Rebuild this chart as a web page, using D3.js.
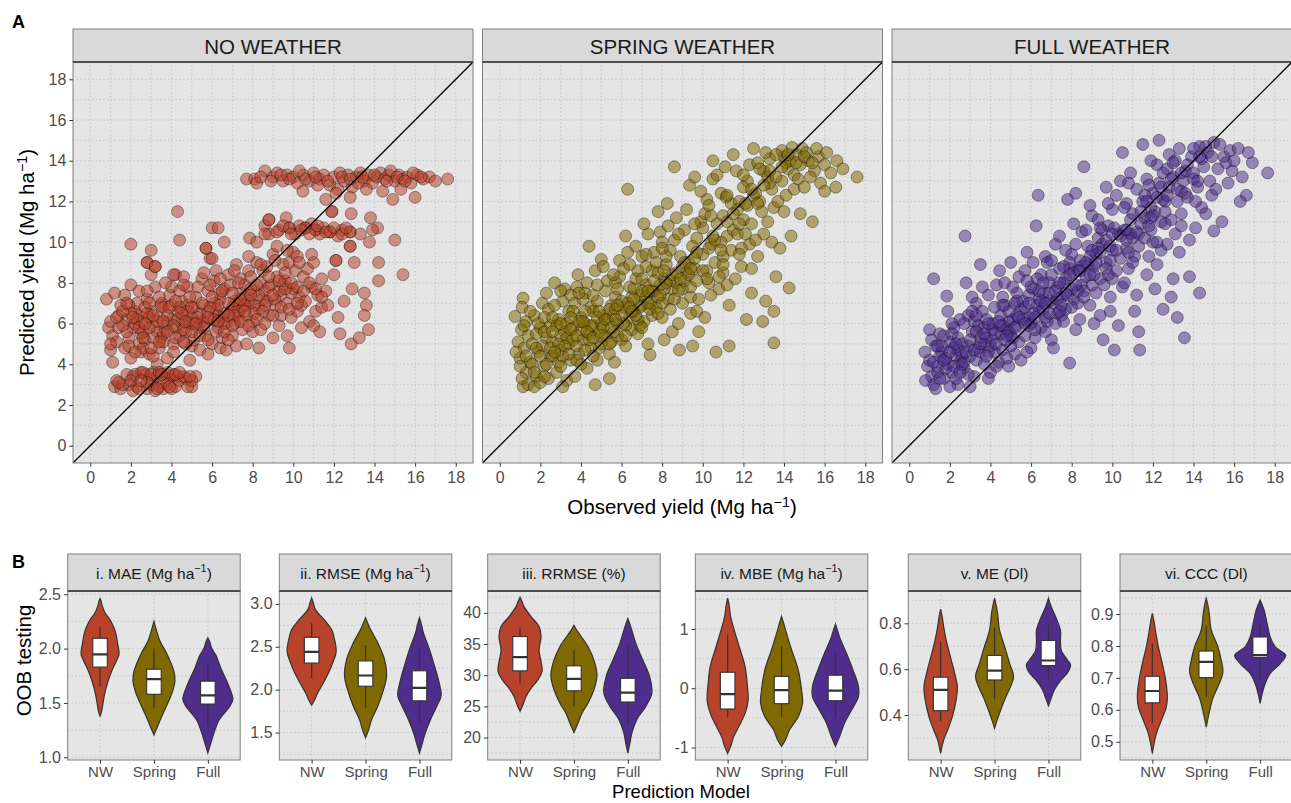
<!DOCTYPE html>
<html>
<head>
<meta charset="utf-8">
<title>Observed vs predicted yield</title>
<script src="https://cdn.jsdelivr.net/npm/d3@7"></script>
<style>
  body { margin: 0; background: #fff; }
  svg { font-family: "Liberation Sans", Arial, Helvetica, sans-serif; }
</style>
</head>
<body>
<svg id="chart" width="1291" height="803"></svg>
<script>
// ---------- data: panel A (observed, predicted) ----------
const scatterTitles = ["NO WEATHER", "SPRING WEATHER", "FULL WEATHER"];
const yieldTicks = [0, 2, 4, 6, 8, 10, 12, 14, 16, 18];
const yieldMinor = [1, 3, 5, 7, 9, 11, 13, 15, 17];
const yieldDomain = [-0.85, 18.85];

const pointsNW = [
  [0.9,5.8],[1.0,6.1],[1.1,5.4],[0.8,7.2],[1.2,7.5],[1.1,4.1],[1.0,4.7],[1.3,5.1],[1.4,6.4],[1.2,2.9],[1.3,3.2],[1.5,2.8],[1.4,5.8],[1.5,6.9],[1.0,5.0],
  [1.7,7.4],[1.8,6.2],[1.9,5.3],[1.7,4.8],[2.0,4.3],[2.1,5.8],[2.2,6.6],[2.0,7.9],[2.3,7.0],[2.4,5.0],[2.1,3.4],[1.9,3.0],[2.3,2.9],[2.5,3.6],[2.2,6.0],[2.4,6.4],[1.8,5.6],[2.5,5.5],[2.0,9.9],[2.4,7.6],[2.1,2.7],[2.5,4.6],[1.9,6.9],
  [2.6,6.1],[2.7,5.2],[2.8,7.2],[2.9,4.5],[3.0,6.6],[3.1,5.9],[3.2,7.8],[3.3,4.0],[3.4,6.3],[3.5,5.3],[2.7,3.5],[2.9,3.3],[3.1,3.6],[3.3,3.4],[2.8,2.8],[3.0,3.0],[3.2,2.7],[3.4,2.9],[2.6,4.8],[3.0,8.4],[2.8,9.0],[3.2,8.8],[3.0,9.6],[3.5,7.0],[2.7,6.8],[3.3,5.6],[3.1,4.4],[2.9,6.3],[3.4,4.8],
  [3.6,6.8],[3.7,5.7],[3.8,4.3],[3.9,7.4],[4.0,6.2],[4.1,5.0],[4.2,8.4],[4.3,6.6],[4.4,5.4],[4.5,7.1],[3.7,3.5],[3.9,3.3],[4.1,3.5],[4.3,3.4],[3.6,2.8],[3.8,3.0],[4.2,2.9],[4.4,3.2],[4.3,11.5],[4.4,10.1],[4.0,7.8],[3.8,6.0],[4.2,5.8],[4.5,6.0],[4.1,4.6],[3.6,5.1],[4.4,7.6],[4.0,6.9],
  [4.6,6.4],[4.7,5.6],[4.8,7.8],[4.9,6.0],[5.0,4.9],[5.1,6.8],[5.2,7.3],[5.3,5.8],[5.4,6.5],[5.5,8.2],[4.7,3.3],[5.0,2.9],[5.2,3.4],[4.9,4.2],[5.1,5.2],[4.6,8.3],[5.4,4.7],[5.5,6.1],[4.8,6.9],[5.3,7.8],[5.0,6.3],[4.7,5.0],
  [5.6,6.9],[5.7,5.4],[5.8,7.6],[5.9,6.2],[6.0,5.0],[6.1,8.1],[6.2,6.7],[6.3,5.8],[6.4,7.2],[6.5,6.3],[5.7,9.7],[5.9,9.2],[6.0,9.2],[6.0,10.7],[6.3,10.7],[6.6,10.0],[5.8,4.5],[6.4,4.8],[6.2,8.6],[5.6,6.0],[6.1,7.0],[6.5,5.3],[5.9,7.9],[6.3,6.4],
  [6.6,7.7],[6.7,6.0],[6.8,8.4],[6.9,6.6],[7.0,5.4],[7.1,7.1],[7.2,8.9],[7.3,6.3],[7.4,7.5],[7.5,5.7],[6.7,4.7],[7.2,4.9],[6.9,7.9],[7.0,6.8],[7.4,8.2],[6.8,5.2],[7.3,7.0],[7.1,6.0],[6.6,6.5],[7.5,6.8],
  [7.6,7.9],[7.7,6.4],[7.8,8.6],[7.9,7.0],[8.0,5.6],[8.1,7.6],[8.2,9.0],[8.3,6.7],[8.4,8.0],[8.5,7.2],[7.85,10.2],[8.2,10.0],[7.7,5.0],[8.3,4.8],[8.0,6.1],[8.4,5.7],[7.9,8.3],[8.1,6.9],[8.5,8.6],[7.6,7.3],
  [8.6,7.6],[8.7,8.8],[8.8,6.4],[8.9,7.9],[9.0,9.4],[9.1,6.9],[9.2,8.3],[9.3,5.9],[9.4,7.4],[9.5,8.9],[8.6,10.8],[8.8,11.1],[8.8,10.4],[9.3,10.6],[9.65,11.2],[9.0,5.3],[9.4,6.4],[8.7,7.1],[9.2,9.8],[9.5,7.9],
  [9.6,8.1],[9.7,7.0],[9.8,9.0],[9.9,6.3],[10.0,7.7],[10.1,8.6],[10.2,6.6],[10.3,7.3],[10.4,5.8],[10.5,8.3],[9.8,4.8],[9.8,10.7],[10.1,10.4],[10.3,10.8],[10.6,10.7],[10.0,9.5],[9.7,5.4],[10.2,9.3],[10.4,6.9],[9.9,7.5],
  [10.6,7.1],[10.7,8.7],[10.8,6.1],[10.9,7.8],[11.0,9.0],[11.1,6.6],[11.2,7.4],[11.3,5.6],[11.4,8.2],[11.1,10.6],[11.3,10.4],[10.9,10.9],[11.5,10.7],[11.0,5.9],[11.4,6.8],
  [11.6,7.6],[11.8,10.5],[11.9,11.5],[12.1,9.1],[12.2,6.3],[12.3,5.5],[12.5,7.1],[12.0,8.4],[12.4,10.6],[11.7,6.9],[12.2,10.3],
  [12.8,9.8],[12.9,7.7],[12.85,5.0],[12.8,10.5],[12.85,11.4],[13.0,9.0],[13.25,5.3],[13.5,7.5],[13.6,6.9],[13.5,6.4],[13.7,5.7],[13.75,10.0],[13.8,11.2],[14.15,10.7],[14.2,9.0],[14.2,8.1],[15.0,10.1],[15.4,8.4],[13.3,10.4],[13.9,10.6],
  [2.3,6.2],[2.8,6.5],[3.3,6.1],[3.8,6.4],[4.3,6.2],[4.8,6.6],[5.3,6.3],[5.8,6.6],[6.3,6.9],[6.8,7.0],[7.3,6.6],[7.8,7.1],[8.3,7.4],[8.8,7.8],[9.3,7.6],[2.6,5.6],[3.1,5.3],[3.6,5.5],[4.1,5.9],[4.6,5.7],[5.1,6.0],[5.6,5.8],[6.1,6.2],[6.6,6.0],[7.1,6.4],[7.6,6.9],[8.1,6.5],[8.6,6.9],[9.1,7.2],[9.6,7.7],[2.0,6.5],[3.5,6.9],[4.9,7.3],[6.4,7.5],[7.9,7.7],[1.6,5.9],[2.9,5.8],[4.4,6.8],[5.9,6.8],[7.4,7.2],
  [7.7,13.1],[8.1,13.1],[8.2,12.9],[8.6,13.5],[9.0,13.2],[9.2,13.4],[9.5,13.0],[9.7,13.3],[10.0,13.2],[10.2,12.9],[10.47,12.5],[10.5,13.3],[10.8,13.0],[11.0,13.4],[11.3,13.1],[11.6,12.1],[11.5,13.3],[11.8,12.8],[12.0,13.2],[12.2,12.6],[12.3,13.4],[12.5,13.0],[12.7,13.3],[12.9,12.7],[13.1,13.2],[13.3,13.4],[13.5,13.0],[13.7,13.3],[13.9,12.9],[14.1,13.2],[14.3,13.4],[14.5,13.1],[14.7,13.3],[14.9,12.1],[15.0,13.0],[15.2,13.3],[15.4,13.1],[15.6,13.2],[15.8,12.9],[16.0,12.2],[16.1,13.3],[16.4,13.1],[16.7,13.2],[17.0,13.0],[17.6,13.1],[12.1,12.4],[13.6,12.6],[14.4,12.5],[15.3,12.6],[11.2,12.8],[9.8,13.1],[10.3,13.5],[14.8,13.5],[12.8,12.2],[13.2,12.9],
  [2.2,3.5],[2.6,3.6],[3.0,3.5],[3.4,3.6],[3.8,3.6],[4.2,3.5],[4.6,3.4],[1.6,3.0],[2.4,2.8],[3.6,3.1],[4.0,2.8],[4.8,2.9],[1.8,3.5],[5.0,3.2],[3.3,2.8],
  [2.8,9.0],[3.2,8.8],[4.1,8.4],[5.7,9.7],[8.8,11.1],[8.6,10.4],[9.8,10.7],[10.6,10.7],[11.1,10.6],[11.8,10.5],[12.8,10.5],[11.9,11.5],[12.1,9.1],[12.8,9.8],
  [1.3,6.3],[1.6,6.6],[1.8,7.0],[2.1,6.3],[2.4,5.8],[2.7,6.0],[2.9,7.0],[3.1,6.4],[3.4,7.3],[3.6,6.1],[3.9,6.8],[4.2,7.1],[4.5,6.5],[4.7,6.1],[5.0,6.8],[5.2,6.0],[5.5,7.0],[5.8,6.3],[6.0,7.3],[6.3,6.1],[6.5,7.6],[6.8,6.4],[7.0,7.5],[7.3,8.0],[7.6,6.6],[7.9,7.4],[8.2,7.9],[8.5,6.6],[8.8,8.3],[9.0,7.4],[9.3,8.1],[9.6,8.5],[9.9,8.0],[10.2,7.8],[10.5,7.6],[10.8,8.0],[11.1,7.7],[11.4,7.3],
  [1.9,4.9],[2.2,4.6],[2.6,5.3],[3.0,4.8],[3.4,5.1],[3.8,5.6],[4.2,5.3],[4.6,5.1],[5.0,5.6],[5.4,5.4],[5.8,5.2],[6.2,5.6],[6.6,5.6],[7.0,5.9],[7.4,6.1],[7.8,5.9],[8.2,6.2],[8.6,6.0],[9.0,6.4],[9.4,6.8],[9.8,6.7],[10.2,7.0],
  [2.8,7.6],[3.7,8.0],[4.6,7.9],[5.6,8.5],[6.4,8.2],[7.1,8.6],[7.8,9.3],[8.4,8.9],[9.1,9.1],[9.7,9.6],[10.3,9.0],[10.9,9.4],
  [9.2,10.5],[9.5,10.8],[9.9,10.4],[10.4,10.6],[10.8,10.4],[11.2,10.8],[11.6,10.5],[12.0,10.7],[12.4,10.4],[12.6,10.7],
  [8.4,13.2],[8.9,13.0],[9.4,13.3],[10.6,13.1],[11.1,13.2],[11.7,13.0],[12.4,13.2],[12.8,13.1],[13.4,13.2],[14.0,13.3],[14.6,13.0],[15.1,13.2],[15.5,13.0],[15.9,13.4],[16.3,13.2],
  [1.4,3.1],[2.0,3.2],[2.8,3.1],[3.5,3.5],[4.4,3.6],[4.9,3.4],[2.5,3.2],[3.9,2.9]
];

const pointsSpring = [
  [0.75,6.35],[1.07,5.7],[1.0,4.3],[1.15,2.9],[1.15,7.25],[0.9,5.1],[1.2,4.8],[1.3,3.6],[1.4,5.4],[1.1,3.3],[1.3,6.1],[0.8,4.6],[1.5,4.1],[1.4,3.0],[1.2,5.9],
  [1.6,5.0],[1.7,6.4],[1.8,3.4],[1.9,4.6],[2.0,5.8],[2.1,7.0],[2.2,3.9],[2.3,5.3],[2.4,6.7],[2.5,4.4],[1.7,2.9],[2.0,3.1],[2.3,7.5],[1.9,6.0],[2.4,3.3],[2.1,4.9],[2.5,5.9],[1.8,5.5],[2.2,6.3],
  [2.6,5.1],[2.7,8.0],[2.8,3.6],[2.9,6.2],[3.0,4.7],[3.1,7.1],[3.2,5.6],[3.3,3.2],[3.4,6.6],[3.5,4.2],[2.7,6.9],[3.0,5.4],[3.2,7.7],[2.9,4.1],[3.4,5.0],[3.1,2.9],[3.5,7.4],[2.8,5.9],[3.3,6.0],[2.6,4.4],
  [3.6,5.8],[3.7,7.0],[3.85,8.4],[3.9,4.5],[4.0,6.3],[4.1,5.2],[4.2,7.5],[4.3,3.8],[4.4,9.8],[4.5,6.8],[3.7,3.4],[4.0,4.0],[4.2,6.0],[4.4,5.5],[3.8,7.8],[4.1,7.2],[4.5,4.8],[3.6,6.6],[4.3,8.0],[4.0,5.7],
  [4.6,5.9],[4.7,3.0],[4.8,7.1],[4.9,4.8],[5.0,9.15],[5.1,6.4],[5.2,5.4],[5.3,8.1],[5.4,3.3],[5.5,6.9],[4.7,8.6],[5.0,6.0],[5.2,7.6],[4.9,5.6],[5.4,4.5],[5.1,8.8],[4.6,6.6],[5.5,5.1],[5.3,6.2],[4.8,4.2],
  [5.65,4.1],[5.7,7.3],[5.8,6.0],[5.9,8.3],[6.0,5.2],[6.1,6.8],[6.2,10.3],[6.3,12.6],[6.4,7.8],[6.5,5.7],[5.6,6.4],[5.9,9.1],[6.0,7.1],[6.2,4.9],[6.4,6.3],[5.8,5.4],[6.1,8.7],[6.5,7.3],[6.3,9.5],[5.7,8.0],
  [6.6,6.6],[6.7,8.2],[6.8,5.5],[6.9,7.4],[7.0,9.3],[7.1,6.1],[7.2,7.9],[7.3,5.0],[7.4,4.46],[7.5,8.6],[6.7,9.8],[7.0,6.9],[7.3,10.4],[6.9,5.9],[7.4,7.0],[6.6,7.7],[7.2,8.8],[7.5,6.4],[7.1,10.9],[6.8,8.6],
  [7.6,7.6],[7.7,9.0],[7.8,11.5],[7.9,10.5],[8.0,6.3],[8.1,8.2],[8.25,11.9],[8.3,7.2],[8.4,9.6],[8.5,5.6],[7.7,6.8],[8.0,10.0],[8.2,8.9],[7.9,7.9],[8.4,6.7],[7.6,9.5],[8.3,10.8],[8.5,7.7],[8.1,5.2],[7.8,8.5],
  [8.6,13.7],[8.7,8.0],[8.85,4.7],[8.9,9.3],[9.0,7.0],[9.1,10.6],[9.2,8.5],[9.35,12.8],[9.4,6.5],[9.5,9.8],[8.7,11.2],[9.0,7.7],[9.2,11.6],[9.6,13.2],[8.8,6.0],[9.3,9.0],[9.5,4.9],[8.6,10.1],[9.1,8.1],[9.4,7.3],
  [9.6,8.7],[9.7,10.2],[9.8,7.2],[9.9,11.0],[10.0,9.4],[10.1,6.3],[10.2,12.1],[10.3,8.0],[10.5,13.1],[10.5,14.0],[9.7,6.6],[10.0,10.7],[10.2,8.6],[9.9,12.5],[10.4,9.9],[9.8,5.6],[10.1,11.4],[10.4,7.4],[10.65,4.6],[10.3,11.8],
  [10.6,9.0],[10.7,10.9],[10.8,7.7],[10.9,12.4],[11.0,8.5],[11.15,12.2],[11.2,10.3],[11.3,4.9],[11.5,14.3],[11.4,9.6],[10.7,13.3],[11.0,11.3],[11.3,6.9],[10.9,10.0],[11.4,11.9],[10.8,8.3],[11.1,13.7],[11.5,10.6],[11.2,7.9],[11.0,9.3],
  [11.65,13.5],[11.7,10.4],[11.8,12.0],[11.9,8.8],[12.0,11.1],[12.15,6.2],[12.2,13.0],[12.4,7.5],[12.5,14.6],[12.3,9.9],[11.7,11.6],[12.0,12.7],[12.4,10.9],[11.9,9.7],[12.2,11.8],[12.5,12.3],[11.6,8.2],[12.3,13.8],[12.1,10.4],[12.4,8.7],
  [12.7,9.3],[12.8,12.0],[12.95,6.1],[13.0,13.5],[13.1,7.1],[13.2,11.0],[13.3,14.1],[13.5,6.6],[13.5,5.05],[13.4,12.6],[12.7,13.9],[13.0,10.4],[13.3,12.9],[13.6,8.3],[12.9,11.5],[13.2,13.2],[13.4,10.0],[12.6,12.4],[13.1,14.4],[13.5,11.7],
  [13.8,9.7],[13.9,13.0],[14.0,14.2],[14.1,12.3],[14.25,7.75],[14.35,10.3],[14.4,14.65],[14.2,13.6],[13.7,12.0],[14.5,13.3],[14.0,11.5],[14.3,14.0],[13.9,14.5],[14.5,12.6],[14.1,13.9],
  [14.6,14.3],[14.7,13.1],[14.8,11.4],[14.9,14.6],[15.0,12.7],[15.2,14.0],[15.4,11.0],[15.5,13.5],[15.7,14.2],[15.8,12.9],[16.0,12.5],[16.0,13.8],[14.8,13.8],[15.3,13.2],[15.6,14.6],[15.1,14.4],
  [16.1,14.4],[16.3,13.4],[16.55,12.7],[16.6,14.0],[16.9,13.6],[17.6,13.2],
  [2.2,5.6],[2.6,6.3],[3.0,6.0],[3.3,5.3],[3.6,5.2],[3.9,6.1],[4.2,6.6],[4.5,5.9],[4.8,6.3],[5.1,5.8],[5.4,6.7],[5.7,6.7],[6.0,6.4],[6.3,7.0],[6.6,7.2],[6.9,6.8],[7.2,7.3],[7.5,7.6],[7.8,7.3],[8.1,7.7],[8.4,8.1],[8.7,8.5],[9.0,8.8],[9.3,8.4],[9.6,9.2],[2.5,4.8],[3.1,4.4],[3.8,4.9],[4.4,5.2],[5.0,5.0],[5.6,5.6],[6.2,5.9],[6.8,6.2],[7.4,6.7],[8.0,7.0],[3.5,6.3],[4.6,7.4],[5.8,7.7],[7.0,8.2],[8.2,9.3],
  [1.3,4.4],[1.6,4.0],[1.8,4.8],[2.0,4.4],[2.3,4.0],[2.6,5.6],[2.9,5.0],[3.2,4.9],[3.5,5.7],[3.8,5.4],[4.1,6.1],[4.3,5.6],[4.6,5.3],[4.9,6.6],[5.2,6.2],[5.5,5.8],[5.8,6.9],[6.1,6.0],[6.4,6.8],[6.7,6.4],[7.0,7.6],[7.3,7.0],[7.6,8.1],[7.9,7.4],[8.2,8.0],[8.5,8.4],[8.8,7.6],[9.1,9.0],[9.4,8.7],[9.7,9.5],[10.0,8.6],[10.3,9.7],[10.6,10.1],[10.9,9.6],[11.2,11.0],[11.5,11.4],[11.8,10.9],[12.1,11.9],[12.4,12.6],[12.7,11.9],[13.0,12.8],[13.3,13.5],[13.6,13.2],[13.9,13.7],[14.2,14.3],[14.6,13.9],[15.0,14.2],[15.4,13.9],
  [3.0,7.6],[3.9,7.5],[4.8,7.9],[5.6,8.4],[6.4,8.9],[7.2,9.4],[8.0,9.7],[8.8,10.4],[9.6,10.9],[10.4,11.3],[11.2,12.3],[12.0,13.3],[12.8,13.6],[13.6,14.3],
  [2.2,3.4],[3.0,3.9],[3.8,4.2],[4.6,4.4],[5.4,5.0],[6.2,5.4],[7.0,5.8],[7.8,6.5],[8.6,7.2],[9.4,7.8],[10.2,8.2],[11.0,8.9],[11.8,9.4],[12.6,10.1],
  [1.0,3.9],[1.7,3.6],[1.1,6.8],[1.5,6.6],[2.7,4.6],[3.4,4.5],[4.2,4.7],[5.0,5.4],[5.7,6.2],[6.5,6.6],[7.3,7.6],[8.1,8.6],[8.9,8.2],[9.7,8.1],[10.5,10.3]
];

const pointsFull = [
  [0.77,4.6],[1.0,5.7],[1.1,3.4],[1.2,8.2],[0.9,3.9],[1.0,4.2],[1.2,3.0],[1.3,4.9],[1.4,3.6],[1.1,5.2],[1.5,4.4],[0.8,3.2],[1.3,2.8],[1.5,5.5],[1.4,3.9],
  [1.6,4.6],[1.7,3.3],[1.85,7.35],[1.9,6.6],[1.9,4.0],[2.0,5.1],[2.1,3.6],[2.2,5.8],[2.3,4.4],[2.4,3.0],[2.5,6.2],[1.7,5.4],[2.0,2.9],[2.2,4.8],[2.4,5.3],[1.8,3.8],[2.1,6.0],[2.5,4.1],[2.3,3.3],[1.6,4.9],
  [2.6,5.0],[2.7,3.8],[2.75,10.3],[2.8,8.0],[2.9,6.4],[3.0,4.4],[3.1,5.6],[3.2,3.4],[3.3,7.0],[3.4,4.8],[3.5,8.9],[2.7,6.0],[3.0,2.9],[3.2,6.1],[2.9,3.5],[3.4,5.9],[2.6,4.4],[3.3,4.2],[3.1,7.3],[3.5,5.3],
  [3.6,6.6],[3.7,4.0],[3.8,5.3],[3.9,7.4],[4.0,3.6],[4.1,6.0],[4.2,4.6],[4.3,7.9],[4.45,8.6],[4.5,5.5],[3.7,5.8],[4.0,4.9],[4.2,6.8],[3.9,3.3],[4.4,4.1],[3.6,7.8],[4.1,5.2],[4.5,6.4],[3.8,6.2],[4.3,3.9],
  [4.6,4.7],[4.7,6.9],[4.8,5.7],[4.9,3.9],[5.0,9.0],[5.1,6.2],[5.2,4.5],[5.3,7.5],[5.4,5.1],[5.5,6.7],[4.7,8.0],[5.0,5.4],[5.2,7.0],[4.9,6.1],[5.4,8.3],[4.8,4.3],[5.3,5.9],[5.5,4.2],[5.1,7.8],[4.6,5.9],
  [5.6,7.1],[5.7,5.4],[5.8,9.5],[5.9,6.3],[6.0,4.8],[6.1,7.7],[6.25,10.8],[6.35,12.3],[6.4,6.6],[6.5,8.4],[5.7,8.6],[6.0,6.0],[6.2,5.3],[5.9,7.4],[6.4,7.2],[5.6,6.2],[6.1,9.0],[6.5,5.8],[6.3,6.9],[5.8,4.6],
  [6.6,7.5],[6.7,9.3],[6.8,6.1],[6.9,8.0],[7.0,5.2],[7.1,7.0],[7.2,9.9],[7.3,6.5],[7.4,8.7],[7.5,7.3],[6.7,5.6],[7.0,8.4],[7.2,6.0],[6.9,7.1],[7.4,10.3],[6.6,6.7],[7.1,4.8],[7.5,6.4],[7.3,7.8],[6.8,9.0],
  [7.6,8.0],[7.7,6.7],[7.8,12.1],[7.9,4.06],[8.0,9.4],[8.1,7.2],[8.2,12.4],[8.3,8.6],[8.4,6.2],[8.5,10.5],[7.7,9.6],[8.0,7.7],[8.2,5.7],[7.9,8.7],[8.4,9.1],[7.6,6.1],[8.1,10.9],[8.5,7.9],[8.3,7.0],[7.8,7.4],
  [8.6,13.7],[8.7,8.3],[8.8,9.8],[8.9,6.9],[9.0,11.3],[9.1,8.8],[9.2,7.5],[9.3,10.2],[9.4,6.4],[9.55,5.2],[8.7,10.6],[9.0,7.9],[9.2,9.4],[8.9,11.8],[9.4,8.2],[8.6,7.6],[9.1,6.0],[9.5,9.9],[9.3,11.1],[8.8,8.9],
  [9.7,12.7],[9.7,9.0],[9.8,10.8],[9.9,7.3],[10.0,11.6],[10.1,4.7],[10.2,8.6],[10.3,10.4],[10.4,13.0],[10.5,14.4],[9.6,7.9],[10.0,9.6],[10.2,12.3],[9.9,6.6],[10.4,9.2],[9.8,11.9],[10.1,10.7],[10.5,7.8],[10.3,5.9],[10.0,8.2],
  [10.6,10.6],[10.7,11.9],[10.8,8.7],[10.9,13.4],[11.0,10.2],[11.1,9.3],[11.2,12.6],[11.35,4.7],[11.3,5.6],[11.5,14.8],[10.7,9.7],[11.0,11.4],[11.2,7.4],[10.9,10.4],[11.4,10.9],[10.8,12.9],[11.1,6.6],[11.5,12.0],[11.3,9.8],[10.6,8.0],
  [11.6,11.2],[11.7,13.1],[11.8,9.3],[11.9,10.6],[12.0,12.4],[12.1,7.7],[12.2,13.8],[12.3,15.0],[12.5,6.7],[12.4,11.0],[11.7,8.4],[12.0,10.0],[12.3,12.9],[11.9,14.0],[12.4,9.6],[11.6,12.3],[12.1,11.5],[12.5,13.4],[12.2,8.9],[11.8,10.8],
  [12.6,12.0],[12.7,9.9],[12.8,14.3],[12.9,11.1],[13.0,13.2],[13.2,6.3],[13.1,10.4],[13.3,14.6],[13.55,5.3],[13.4,12.5],[12.7,13.6],[13.0,8.2],[13.2,12.0],[12.9,7.3],[13.4,11.4],[12.6,10.9],[13.1,14.0],[13.5,13.0],[13.3,9.5],[12.8,12.7],
  [13.8,8.3],[13.7,12.2],[13.9,14.2],[14.0,13.1],[14.1,10.7],[14.3,7.5],[14.3,14.7],[14.2,12.7],[14.5,13.7],[14.4,11.7],[13.6,13.5],[14.0,14.6],[13.8,10.1],[14.4,14.1],[14.1,12.0],
  [14.6,11.4],[14.7,14.4],[14.8,13.0],[15.0,14.9],[15.0,10.55],[15.2,13.6],[15.4,11.0],[15.5,14.2],[15.7,12.9],[15.9,13.5],[14.9,12.3],[15.3,14.8],[15.6,13.9],[16.0,14.0],[15.1,12.6],[15.8,14.5],
  [16.2,14.6],[16.4,13.2],[16.6,12.3],[16.9,13.9],[16.7,14.4],[17.65,13.4],[16.3,12.0],
  [1.8,4.3],[2.4,4.7],[2.9,4.9],[3.3,5.6],[3.7,5.0],[4.1,5.7],[4.5,5.9],[4.9,5.6],[5.3,6.4],[5.7,6.8],[6.1,6.5],[6.5,7.1],[6.9,7.5],[7.3,7.2],[7.7,8.2],[8.1,8.5],[8.5,8.8],[8.9,9.3],[9.3,9.7],[9.7,10.1],[2.7,4.1],[3.5,4.6],[4.3,5.0],[5.1,5.3],[5.9,5.9],[6.7,6.3],[7.5,6.9],[8.3,7.6],[9.1,8.4],[9.9,9.1],[10.7,10.1],[11.3,10.4],[11.9,11.7],[12.5,12.1],[3.1,6.6],[4.6,7.3],[6.3,8.2],[7.9,9.0],[9.5,10.6],[2.2,3.9],
  [1.2,4.1],[1.5,3.3],[1.7,4.2],[2.0,4.6],[2.3,5.0],[2.5,3.6],[2.8,4.6],[3.0,5.2],[3.2,4.7],[3.5,5.0],[3.7,5.5],[3.9,4.6],[4.2,5.5],[4.4,6.1],[4.7,5.2],[4.9,6.6],[5.2,5.8],[5.4,6.3],[5.7,6.0],[5.9,7.0],[6.2,6.3],[6.4,7.6],[6.7,7.0],[6.9,6.5],[7.2,7.6],[7.4,8.0],[7.7,7.5],[7.9,8.4],[8.2,7.9],[8.4,8.6],[8.7,9.0],[8.9,8.4],[9.2,9.0],[9.4,9.5],[9.7,8.7],[9.9,9.8],[10.2,9.6],[10.4,10.3],[10.7,10.6],[10.9,11.1],[11.2,10.5],[11.4,11.5],[11.7,12.0],[11.9,11.2],[12.2,12.2],[12.4,12.7],[12.7,12.3],[12.9,13.1],[13.2,12.6],[13.4,13.4],[13.7,13.8],[14.0,13.4],[14.3,14.2],[14.6,14.7],[14.9,14.2],
  [2.1,5.5],[3.3,6.4],[4.6,6.9],[5.8,8.1],[7.0,9.1],[8.2,9.9],[9.4,10.7],[10.6,11.7],[11.8,12.8],[13.0,13.9],
  [1.4,4.9],[2.6,4.0],[3.8,4.4],[5.0,4.9],[6.2,5.7],[7.4,6.6],[8.6,7.3],[9.8,8.4],[11.0,9.0],[12.2,10.0],[13.4,10.8],
  [6.0,7.8],[6.6,8.0],[7.6,8.8],[8.0,6.8],[9.0,9.6],[10.0,10.4],[10.8,9.5],[11.6,10.2],[12.0,11.3],[12.6,11.5],[13.6,12.4],[14.2,13.0],[3.9,6.0],[4.8,5.4],[5.3,7.1]
];

// ---------- data: panel B (OOB testing metrics) ----------
const models = ["NW", "Spring", "Full"];
const modelColors = ["#B8432B", "#806900", "#4E2D8C"];

const metricTitles = [
  ["i. MAE (Mg ha", "\u22121", ")"],
  ["ii. RMSE (Mg ha", "\u22121", ")"],
  ["iii. RRMSE (%)"],
  ["iv. MBE (Mg ha", "\u22121", ")"],
  ["v. ME (Dl)"],
  ["vi. CCC (Dl)"]
];
const metricDomains = [[0.975, 2.53], [1.18, 3.15], [16.4, 43.5], [-1.21, 1.64], [0.204, 0.941], [0.443, 0.972]];
const metricTicks = [[1.0, 1.5, 2.0, 2.5], [1.5, 2.0, 2.5, 3.0], [20, 25, 30, 35, 40], [-1, 0, 1], [0.4, 0.6, 0.8], [0.5, 0.6, 0.7, 0.8, 0.9]];
const metricTickLabels = [["1.0","1.5","2.0","2.5"], ["1.5","2.0","2.5","3.0"], ["20","25","30","35","40"], ["-1","0","1"], ["0.4","0.6","0.8"], ["0.5","0.6","0.7","0.8","0.9"]];

// violin outlines: [value, relative width] read from top to bottom
const violinMAE = [
  [[2.46,0],[2.44,1],[2.40,2],[2.33,5],[2.25,11],[2.15,15.5],[2.05,17.5],[1.95,19],[1.88,16],[1.80,12],[1.70,8],[1.60,5],[1.50,3],[1.42,1.5],[1.38,0]],
  [[2.25,0],[2.20,1.5],[2.07,6],[1.95,13],[1.79,20],[1.70,21],[1.59,18],[1.48,13],[1.36,7],[1.27,3],[1.205,0]],
  [[2.10,0],[2.06,2],[2.0,4],[1.94,8],[1.82,13],[1.70,19],[1.58,24],[1.53,25],[1.47,22],[1.34,11],[1.22,6],[1.13,3],[1.04,0]]
];
const violinRMSE = [
  [[3.07,0],[3.02,1.5],[2.93,4],[2.81,13],[2.70,20],[2.58,23],[2.44,24.5],[2.31,21],[2.19,16.7],[2.08,11.7],[1.96,6],[1.87,2.5],[1.82,0]],
  [[2.84,0],[2.78,2],[2.70,5],[2.54,12.5],[2.35,19],[2.15,21],[2.0,18],[1.80,12],[1.65,6],[1.53,3],[1.44,0]],
  [[2.84,0],[2.76,2],[2.66,4],[2.47,10],[2.28,15],[2.08,19.7],[1.93,21.7],[1.81,17.5],[1.65,11],[1.50,6],[1.38,3],[1.26,0]]
];
const violinRRMSE = [
  [[42.5,0],[41.8,2],[41.0,4],[39.4,11],[37.8,19],[36.2,21],[34.0,19],[32.2,21],[30.6,22],[29.2,17.5],[27.9,11],[26.6,6],[25.3,3],[24.2,0]],
  [[38.0,0],[37.4,2],[36.7,5],[34.6,14],[31.9,21],[29.8,23],[27.7,20],[25.5,14],[23.9,8],[22.3,4],[20.8,0]],
  [[39.1,0],[38.2,2],[37.2,4],[35.1,8],[32.4,15],[29.8,21.7],[27.1,24],[25.0,18],[22.9,9],[20.7,4],[19.0,2],[17.5,0]]
];
const violinMBE = [
  [[1.52,0],[1.40,1.5],[1.21,3],[0.93,7.5],[0.65,12.5],[0.36,17.5],[0.08,19.5],[-0.2,20.5],[-0.42,17.5],[-0.65,11],[-0.82,6],[-0.98,3],[-1.1,0]],
  [[1.21,0],[1.10,2],[0.98,4],[0.65,10],[0.31,16.7],[-0.03,20],[-0.25,21],[-0.48,16.7],[-0.70,8],[-0.87,4],[-0.98,0]],
  [[1.08,0],[0.98,2],[0.87,4],[0.59,11],[0.31,17.5],[0.03,23],[-0.14,23],[-0.37,16],[-0.59,9],[-0.82,4],[-0.98,0]]
];
const violinME = [
  [[0.862,0],[0.83,1.5],[0.786,3],[0.728,5.5],[0.655,9.7],[0.583,14],[0.524,16.7],[0.466,15.5],[0.393,11.7],[0.335,7],[0.291,3],[0.233,0]],
  [[0.91,0],[0.88,1.5],[0.845,3],[0.77,5],[0.70,10],[0.626,15],[0.568,19],[0.524,16],[0.466,10],[0.408,5],[0.37,2],[0.342,0]],
  [[0.91,0],[0.87,3],[0.82,8],[0.77,12],[0.72,12],[0.68,13],[0.64,19],[0.62,22],[0.59,20],[0.55,12],[0.51,6],[0.47,2.5],[0.44,0]]
];
const violinCCC = [
  [[0.902,0],[0.88,1.5],[0.85,3],[0.797,6],[0.745,10],[0.693,13.3],[0.640,15],[0.609,14],[0.567,9],[0.526,4],[0.49,1.5],[0.463,0]],
  [[0.949,0],[0.93,1.5],[0.902,3],[0.85,5],[0.797,11.7],[0.755,15],[0.719,16.7],[0.682,13],[0.640,7],[0.599,3.5],[0.546,0]],
  [[0.944,0],[0.912,4],[0.87,7],[0.828,10],[0.797,15],[0.771,25.5],[0.745,20],[0.714,10],[0.682,5],[0.65,2],[0.62,0]]
];
// box stats: [lower whisker, q1, median, q3, upper whisker]
const boxMAE = [[1.65,1.83,1.947,2.095,2.196], [1.45,1.58,1.72,1.81,2.0], [1.28,1.49,1.57,1.70,1.86]];
const boxRMSE = [[2.13,2.31,2.44,2.61,2.775], [1.785,2.04,2.165,2.335,2.52], [1.63,1.87,2.02,2.22,2.48]];
const boxRRMSE = [[28.7,30.7,32.9,36.2,37.7], [25.0,27.5,29.4,31.5,34.0], [21.8,25.7,27.2,29.5,34.7]];
const boxMBE = [[-0.48,-0.35,-0.10,0.27,0.91], [-0.48,-0.26,-0.03,0.20,0.71], [-0.51,-0.21,-0.04,0.22,0.62]];
const boxME = [[0.374,0.419,0.51,0.565,0.72], [0.469,0.553,0.594,0.66,0.783], [0.556,0.616,0.638,0.725,0.793]];
const boxCCC = [[0.557,0.622,0.659,0.705,0.808], [0.64,0.701,0.75,0.784,0.862], [0.695,0.764,0.771,0.828,0.87]];

const violins = [violinMAE, violinRMSE, violinRRMSE, violinMBE, violinME, violinCCC];
const boxes = [boxMAE, boxRMSE, boxRRMSE, boxMBE, boxME, boxCCC];

// ---------- layout ----------
const A = { lefts: [73, 482.5, 892], width: 400, stripTop: 29, top: 62, bottom: 463 };
const B = { lefts: [67.7, 279.3, 487.7, 695.3, 908.3, 1120], width: 172.5, stripTop: 554, top: 591, bottom: 760 };
const panelBg = "#e5e5e5", stripBg = "#d9d9d9", borderCol = "#7f7f7f", gridCol = "#bcbcbc";

const svg = d3.select("#chart");
const defs = svg.append("defs");

function addSup(textSel, parts) {
  textSel.append("tspan").text(parts[0]);
  if (parts.length > 1) {
    textSel.append("tspan").attr("dy", -7).attr("font-size", "0.7em").text(parts[1]);
    textSel.append("tspan").attr("dy", 7).text(parts[2]);
  }
}

function styleAxis(g, size) {
  g.select(".domain").remove();
  g.selectAll(".tick line").attr("stroke", "#333").attr("stroke-width", 1);
  g.selectAll(".tick text").attr("fill", "#4d4d4d").attr("font-size", size).attr("font-family", "Liberation Sans, Arial, sans-serif");
}

// ---------- panel A ----------
const scatterSets = [pointsNW, pointsSpring, pointsFull];
scatterTitles.forEach((title, i) => {
  const left = A.lefts[i];
  const x = d3.scaleLinear().domain(yieldDomain).range([left, left + A.width]);
  const y = d3.scaleLinear().domain(yieldDomain).range([A.bottom, A.top]);
  const g = svg.append("g");

  defs.append("clipPath").attr("id", "clipA" + i).append("rect")
    .attr("x", left).attr("y", A.top).attr("width", A.width).attr("height", A.bottom - A.top);

  g.append("rect").attr("x", left).attr("y", A.top).attr("width", A.width).attr("height", A.bottom - A.top).attr("fill", panelBg);

  const grid = g.append("g").attr("stroke", gridCol).attr("stroke-dasharray", "1.2,2.6").attr("stroke-width", 0.9);
  grid.selectAll(".v").data(yieldMinor.concat(yieldTicks)).join("line")
    .attr("x1", d => x(d)).attr("x2", d => x(d)).attr("y1", A.top).attr("y2", A.bottom);
  grid.selectAll(".h").data(yieldMinor.concat(yieldTicks)).join("line").attr("class", "h")
    .attr("y1", d => y(d)).attr("y2", d => y(d)).attr("x1", left).attr("x2", left + A.width);

  g.append("g").attr("clip-path", `url(#clipA${i})`)
    .selectAll("circle").data(scatterSets[i]).join("circle")
    .attr("cx", d => x(d[0])).attr("cy", d => y(d[1])).attr("r", 6)
    .attr("fill", modelColors[i]).attr("fill-opacity", 0.53)
    .attr("stroke", "#000").attr("stroke-opacity", 0.45).attr("stroke-width", 0.8);

  g.append("line").attr("clip-path", `url(#clipA${i})`)
    .attr("x1", x(yieldDomain[0])).attr("y1", y(yieldDomain[0]))
    .attr("x2", x(yieldDomain[1])).attr("y2", y(yieldDomain[1]))
    .attr("stroke", "#000").attr("stroke-width", 1.3);

  g.append("rect").attr("x", left).attr("y", A.top).attr("width", A.width).attr("height", A.bottom - A.top)
    .attr("fill", "none").attr("stroke", borderCol).attr("stroke-width", 1);

  // strip
  g.append("rect").attr("x", left).attr("y", A.stripTop).attr("width", A.width).attr("height", A.top - A.stripTop)
    .attr("fill", stripBg).attr("stroke", borderCol).attr("stroke-width", 1);
  g.append("line").attr("x1", left).attr("x2", left + A.width).attr("y1", A.top).attr("y2", A.top)
    .attr("stroke", "#333").attr("stroke-width", 1.5);
  g.append("text").attr("x", left + A.width / 2).attr("y", A.stripTop + 24.5).attr("text-anchor", "middle")
    .attr("font-size", 20.5).attr("fill", "#1a1a1a").text(title);

  const xAxis = g.append("g").attr("transform", `translate(0,${A.bottom})`)
    .call(d3.axisBottom(x).tickValues(yieldTicks).tickSize(3.7).tickPadding(4.5));
  styleAxis(xAxis, 16);

  if (i === 0) {
    const yAxis = g.append("g").attr("transform", `translate(${left},0)`)
      .call(d3.axisLeft(y).tickValues(yieldTicks).tickSize(3.7).tickPadding(3));
    styleAxis(yAxis, 16);
  }
});

svg.append("text").attr("x", 12).attr("y", 28).attr("font-size", 18).attr("font-weight", "bold").text("A");
const yTitleA = svg.append("text").attr("transform", `translate(34,${(A.top + A.bottom) / 2}) rotate(-90)`)
  .attr("text-anchor", "middle").attr("font-size", 20.5).attr("fill", "#000");
addSup(yTitleA, ["Predicted yield (Mg ha", "\u22121", ")"]);
const xTitleA = svg.append("text").attr("x", 682).attr("y", 514).attr("text-anchor", "middle")
  .attr("font-size", 20.5).attr("fill", "#000");
addSup(xTitleA, ["Observed yield (Mg ha", "\u22121", ")"]);

// ---------- panel B ----------
metricTitles.forEach((parts, i) => {
  const left = B.lefts[i];
  const x = d3.scalePoint().domain(models).range([left, left + B.width]).padding(0.6);
  const y = d3.scaleLinear().domain(metricDomains[i]).range([B.bottom, B.top]);
  const step = x.step();
  const wScale = d3.scaleLinear().domain([0, 53.9]).range([0, step]);
  const ticks = metricTicks[i];
  const half = (ticks[1] - ticks[0]) / 2;
  const dom = metricDomains[i];
  const minor = [ticks[0] - half].concat(ticks.map(t => t + half)).filter(v => v > dom[0] && v < dom[1]);
  const g = svg.append("g");

  defs.append("clipPath").attr("id", "clipB" + i).append("rect")
    .attr("x", left).attr("y", B.top).attr("width", B.width).attr("height", B.bottom - B.top);

  g.append("rect").attr("x", left).attr("y", B.top).attr("width", B.width).attr("height", B.bottom - B.top).attr("fill", panelBg);

  const grid = g.append("g").attr("stroke", gridCol).attr("stroke-dasharray", "1.2,2.6").attr("stroke-width", 0.9);
  grid.selectAll(".h").data(minor.concat(ticks)).join("line").attr("class", "h")
    .attr("y1", d => y(d)).attr("y2", d => y(d)).attr("x1", left).attr("x2", left + B.width);
  grid.selectAll(".v").data(models).join("line").attr("class", "v")
    .attr("x1", d => x(d)).attr("x2", d => x(d)).attr("y1", B.top).attr("y2", B.bottom);

  const plot = g.append("g").attr("clip-path", `url(#clipB${i})`);
  models.forEach((m, k) => {
    const cx = x(m);
    const area = d3.area().curve(d3.curveCatmullRom.alpha(0.5))
      .y(d => y(d[0])).x0(d => cx - wScale(d[1])).x1(d => cx + wScale(d[1]));
    plot.append("path").datum(violins[i][k]).attr("d", area)
      .attr("fill", modelColors[k]).attr("stroke", "#333").attr("stroke-width", 1.2);

    const b = boxes[i][k];
    const bw = step * 0.27;
    plot.append("line").attr("x1", cx).attr("x2", cx).attr("y1", y(b[0])).attr("y2", y(b[4]))
      .attr("stroke", "#333").attr("stroke-width", 1.2);
    plot.append("rect").attr("x", cx - bw / 2).attr("width", bw).attr("y", y(b[3])).attr("height", y(b[1]) - y(b[3]))
      .attr("fill", "#fff").attr("stroke", "#333").attr("stroke-width", 1.1);
    plot.append("line").attr("x1", cx - bw / 2).attr("x2", cx + bw / 2).attr("y1", y(b[2])).attr("y2", y(b[2]))
      .attr("stroke", "#333").attr("stroke-width", 2.2);
  });

  g.append("rect").attr("x", left).attr("y", B.top).attr("width", B.width).attr("height", B.bottom - B.top)
    .attr("fill", "none").attr("stroke", borderCol).attr("stroke-width", 1);

  g.append("rect").attr("x", left).attr("y", B.stripTop).attr("width", B.width).attr("height", B.top - B.stripTop)
    .attr("fill", stripBg).attr("stroke", borderCol).attr("stroke-width", 1);
  g.append("line").attr("x1", left).attr("x2", left + B.width).attr("y1", B.top).attr("y2", B.top)
    .attr("stroke", "#333").attr("stroke-width", 1.5);
  const st = g.append("text").attr("x", left + B.width / 2).attr("y", B.stripTop + 25).attr("text-anchor", "middle")
    .attr("font-size", 15.5).attr("fill", "#1a1a1a");
  addSup(st, parts);

  const xAxis = g.append("g").attr("transform", `translate(0,${B.bottom})`)
    .call(d3.axisBottom(x).tickSize(3.7).tickPadding(3));
  styleAxis(xAxis, 15);
  const yAxis = g.append("g").attr("transform", `translate(${left},0)`)
    .call(d3.axisLeft(y).tickValues(ticks).tickFormat((d, j) => metricTickLabels[i][j]).tickSize(3.7).tickPadding(3));
  styleAxis(yAxis, 16);
});

svg.append("text").attr("x", 12).attr("y", 568).attr("font-size", 18).attr("font-weight", "bold").text("B");
svg.append("text").attr("transform", `translate(31,${(B.top + B.bottom) / 2 - 15}) rotate(-90)`)
  .attr("text-anchor", "middle").attr("font-size", 20.5).attr("fill", "#000").text("OOB testing");
svg.append("text").attr("x", 681).attr("y", 798).attr("text-anchor", "middle")
  .attr("font-size", 18.5).attr("fill", "#000").text("Prediction Model");
</script>
</body>
</html>
